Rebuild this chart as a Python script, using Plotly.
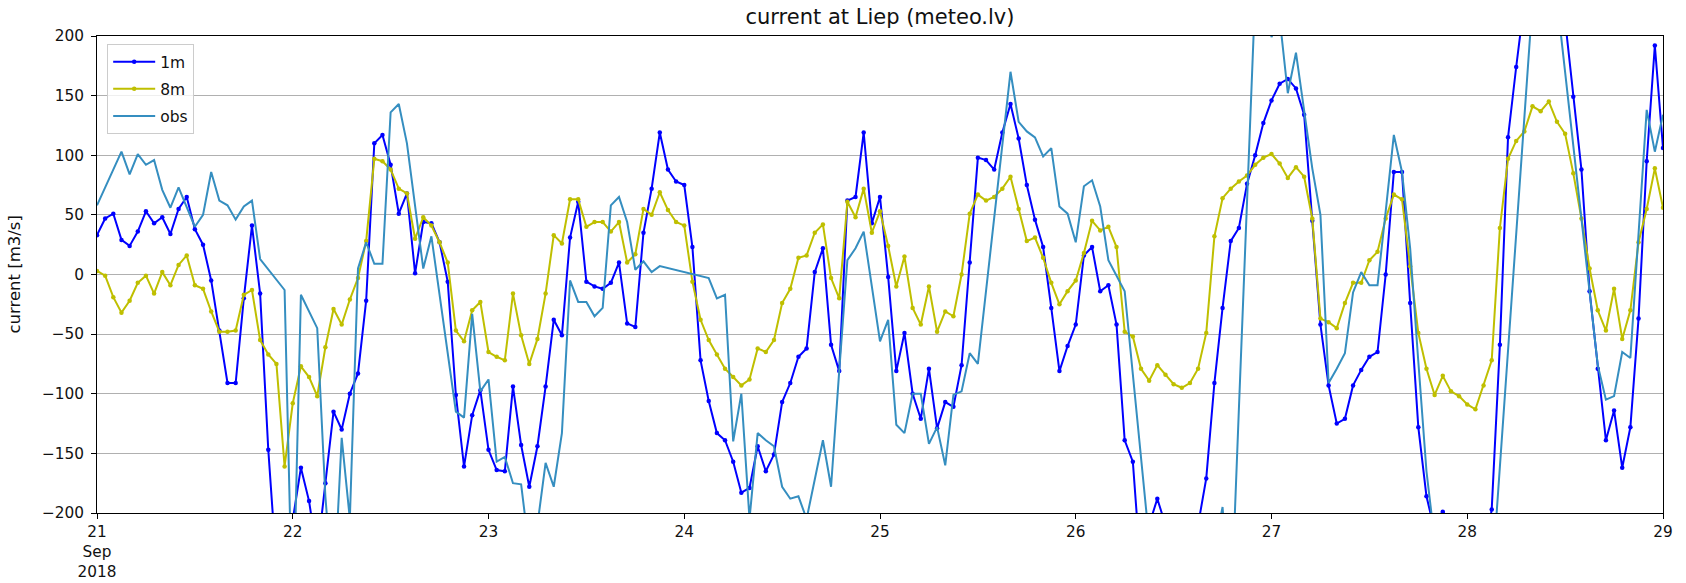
import pandas as pd
import plotly.graph_objects as go

START = "2018-09-21"

# hourly model series (hour 0 = 2018-09-21 00:00)
m1_values = [
    33, 47, 51, 29, 24, 36, 53, 43, 48, 34, 55, 65, 38, 25, -5, -47, -91, -91, -20, 41, -16, -147, -245, -260, -206,
    -162, -190, -235, -175, -115, -130, -100, -83, -22, 110, 117, 92, 51, 68, 1, 44, 43, 27, -6, -101, -161, -118, -97, -147,
    -164, -165, -94, -143, -178, -144, -94, -38, -51, 31, 61, -6, -10, -12, -7, 10, -41, -44, 35, 72, 119, 88, 78, 75,
    23, -72, -106, -133, -139, -157, -183, -179, -144, -165, -151, -107, -91, -69, -62, 2, 22, -59, -81, 62, 65, 119, 43, 65,
    -2, -81, -49, -100, -121, -79, -129, -107, -111, -76, 10, 98, 96, 88, 119, 143, 114, 75, 46, 23, -28, -81, -60, -42,
    16, 23, -14, -9, -42, -139, -157, -250, -210, -188, -210, -260, -270, -255, -210, -171, -91, -28, 28, 39, 76, 100, 127, 146,
    160, 164, 156, 134, 45, -42, -93, -125, -121, -93, -80, -69, -65, 0, 86, 86, -24, -128, -186, -215, -199, -230, -260, -265,
    -260, -240, -197, -59, 115, 174, 229, 270, 290, 280, 250, 213, 149, 88, -14, -79, -139, -114, -162, -128, -37, 95, 192, 106,
]

m8_values = [
    3, -1, -19, -32, -22, -7, -1, -16, 2, -9, 8, 16, -9, -12, -31, -48, -48, -47, -17, -13, -55, -67, -75, -161, -108,
    -77, -86, -102, -61, -29, -42, -21, -3, 28, 97, 95, 88, 72, 68, 30, 48, 41, 27, 10, -47, -56, -30, -23, -65,
    -69, -72, -16, -51, -75, -54, -16, 33, 26, 63, 63, 40, 44, 44, 36, 44, 10, 17, 55, 50, 69, 54, 44, 41,
    -6, -38, -55, -67, -79, -86, -93, -88, -62, -65, -55, -24, -12, 14, 16, 35, 42, -3, -20, 61, 48, 72, 35, 53,
    24, -10, 15, -28, -42, -10, -48, -31, -35, 0, 51, 67, 62, 65, 72, 82, 55, 28, 31, 14, -7, -25, -14, -5,
    18, 45, 37, 40, 23, -48, -52, -79, -89, -76, -84, -92, -95, -91, -79, -49, 32, 64, 72, 78, 83, 92, 98, 101,
    93, 81, 90, 82, 47, -37, -40, -45, -24, -7, -7, 12, 19, 47, 67, 63, 7, -49, -79, -101, -85, -98, -102, -109,
    -113, -93, -72, 39, 97, 112, 120, 141, 137, 145, 128, 118, 85, 47, 5, -30, -47, -12, -54, -30, 27, 55, 89, 56,
]

# observations (irregular, hours since 2018-09-21 00:00)
obs_hours = [
    0, 3, 4, 5, 6, 7, 8, 9, 10, 12, 13, 14, 15, 16, 17, 18, 19, 20, 23, 24, 25, 27, 28, 29, 30, 31, 32, 33, 34, 35,
    36, 37, 38, 40, 41, 44, 45, 46, 47, 48, 49, 50, 51, 52, 53, 54, 55, 56, 57, 58, 59, 60, 61, 62, 63, 64, 65, 66,
    67, 68, 69, 75, 76, 77, 78, 79, 80, 81, 82, 83, 84, 85, 86, 87, 89, 90, 91, 92, 93, 94, 95, 96, 97, 98, 99, 100,
    101, 102, 103, 104, 105, 106, 107, 108, 112, 113, 114, 115, 116, 117, 118, 119, 120, 121, 122, 123, 124, 126,
    129, 137, 138, 139, 140, 141, 142, 143, 144, 145, 146, 147, 148, 149, 150, 151, 152, 153, 154, 155, 156, 157,
    158, 159, 160, 161, 162, 163, 164, 171, 176, 177, 178, 179, 184, 185, 186, 187, 188, 189, 190, 191, 192,
]
obs_values = [
    58, 103, 84, 101, 92, 96, 71, 56, 73, 40, 50, 86, 62, 58, 46, 57, 62, 13, -13, -300, -17, -45, -186, -274, -137, -205, 5, 27, 9, 9,
    136, 143, 110, 5, 32, -115, -120, -33, -98, -88, -157, -153, -175, -176, -232, -210, -158, -178, -133, -5, -23, -23, -35, -28, 58, 65, 44, 4,
    11, 2, 7, -3, -20, -17, -140, -100, -205, -133, -139, -144, -178, -188, -186, -205, -139, -178, -81, 12, 22, 36, -10, -56, -38, -126, -133, -100,
    -100, -142, -128, -160, -101, -98, -66, -75, 170, 128, 120, 115, 99, 106, 57, 51, 27, 74, 79, 57, 12, -14,
    -223, -230, -195, -290, -113, 62, 235, 245, 199, 215, 152, 186, 136, 89, 50, -91, -79, -66, -15, 2, -9, -9,
    53, 117, 86, 22, -73, -165, -223, -259, 229, 265, 260, 231, -76, -105, -102, -65, -70, 36, 138, 103, 134,
]

day_ticks = ["2018-09-%02d" % d for d in range(21, 30)]
day_labels = ["21<br>Sep<br>2018", "22", "23", "24", "25", "26", "27", "28", "29"]
y_ticks = [-200, -150, -100, -50, 0, 50, 100, 150, 200]

t0 = pd.Timestamp(START)
model_times = [t0 + pd.Timedelta(hours=h) for h in range(len(m1_values))]
obs_times = [t0 + pd.Timedelta(hours=h) for h in obs_hours]

FONT = "DejaVu Sans"
TXT = "#111111"
C_1M = "#0000ff"
C_8M = "#bfbf00"
C_OBS = "#358ec0"

fig = go.Figure()
fig.add_trace(go.Scatter(x=model_times, y=m1_values, name="1m", mode="lines+markers",
                         line=dict(color=C_1M, width=2), marker=dict(color=C_1M, size=4.5),
                         legendgroup="a"))
fig.add_trace(go.Scatter(x=model_times, y=m8_values, name="8m", mode="lines+markers",
                         line=dict(color=C_8M, width=2), marker=dict(color=C_8M, size=4.5),
                         legendgroup="b"))
fig.add_trace(go.Scatter(x=obs_times, y=obs_values, name="obs", mode="lines",
                         line=dict(color=C_OBS, width=2), legendgroup="c"))

fig.update_layout(
    width=1686, height=583,
    margin=dict(l=97, r=23, t=36, b=70),
    paper_bgcolor="white", plot_bgcolor="white",
    font=dict(family=FONT, size=15.3, color=TXT),
    title=dict(text="current at Liep (meteo.lv)", x=0.5, xref="paper", xanchor="center",
               y=1 - 17 / 583, yref="container", yanchor="middle",
               font=dict(family=FONT, size=21, color=TXT)),
    showlegend=True,
    legend=dict(x=0.0065, y=0.983, xanchor="left", yanchor="top",
                bgcolor="rgba(255,255,255,0.8)", bordercolor="#cccccc", borderwidth=1,
                font=dict(family=FONT, size=15.5), tracegroupgap=4, itemwidth=42),
    xaxis=dict(type="date", range=[day_ticks[0], day_ticks[-1]],
               tickmode="array", tickvals=day_ticks, ticktext=day_labels,
               ticks="outside", ticklen=5, tickcolor="black", tickwidth=1,
               showgrid=False, zeroline=False, automargin=False,
               showline=True, mirror=True, linecolor="black", linewidth=1),
    yaxis=dict(range=[-200, 200], tickmode="array", tickvals=y_ticks,
               ticks="outside", ticklen=5, tickcolor="black", tickwidth=1,
               ticklabelstandoff=4, automargin=False,
               showgrid=True, gridcolor="#b0b0b0", gridwidth=1, zeroline=False,
               showline=True, mirror=True, linecolor="black", linewidth=1),
    annotations=[dict(text="current [m3/s]", xref="paper", yref="paper",
                      x=(14 - 97) / 1566, y=0.5, textangle=-90, showarrow=False,
                      xanchor="center", yanchor="middle",
                      font=dict(family=FONT, size=16.5, color=TXT))],
)

fig.write_html("out.html")
